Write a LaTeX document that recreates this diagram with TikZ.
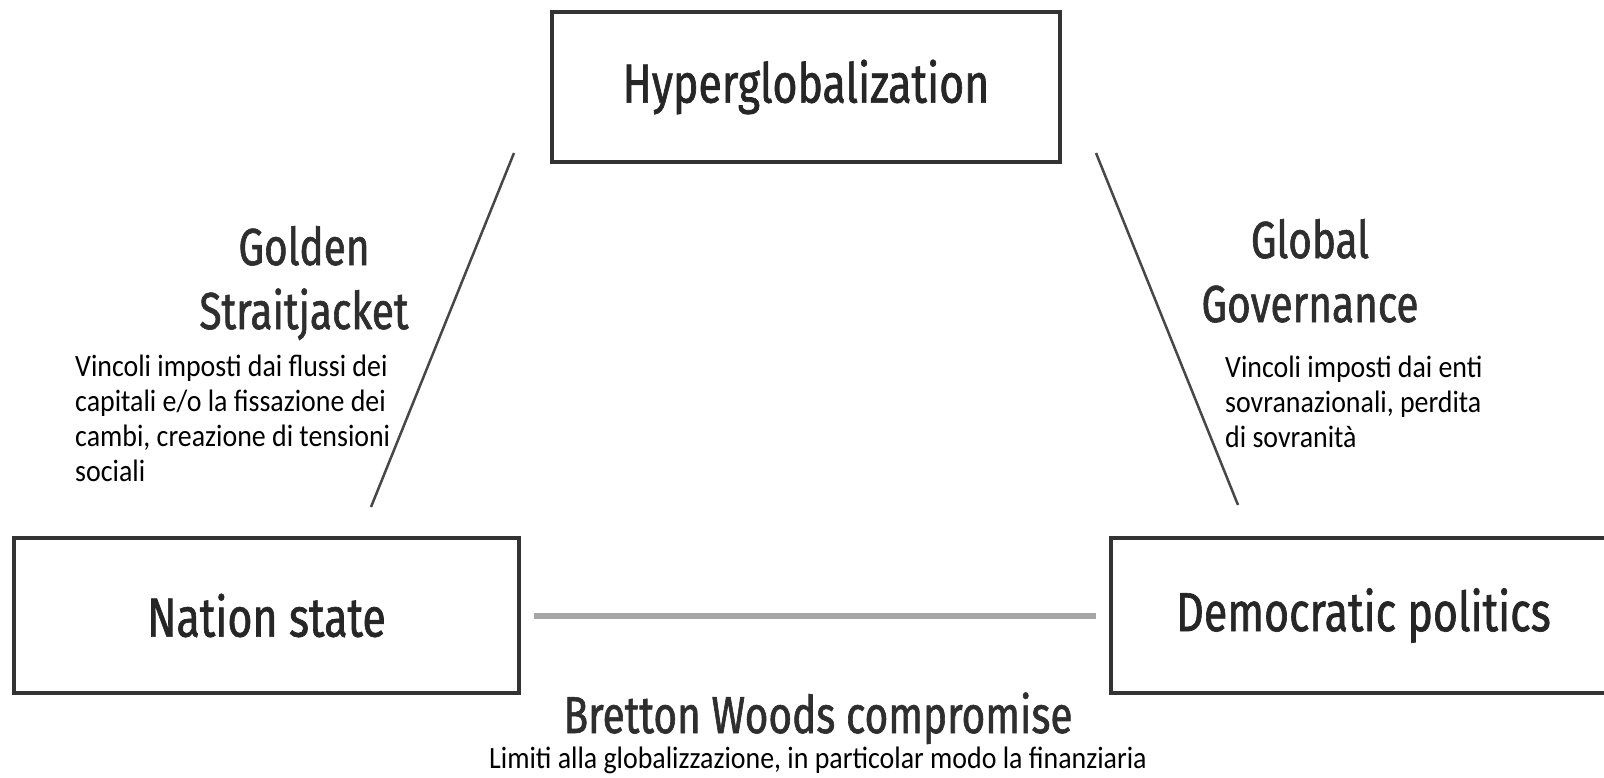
\documentclass[tikz,border=0pt]{standalone}
\usepackage{fontspec}
\setmainfont{Carlito}
\newfontfamily\headfont[FakeStretch=0.78, FakeBold=1.2]{Fira Sans}
\newfontfamily\notefont[FakeStretch=0.9]{Carlito}

\begin{document}
\begin{tikzpicture}[x=1pt, y=-1pt]
\newcommand{\boxwd}{505pt}
\newcommand{\boxht}{155pt}

\tikzset{ boxstyle/.style={draw=black!80, line width=4pt, minimum width=\boxwd,
    minimum height=\boxht, inner sep=0pt, text=black!85,
    font=\headfont\fontsize{55}{64}\selectfont},
  headstyle/.style={align=center, inner sep=0pt, text=black!82,
    font=\headfont\fontsize{52}{64}\selectfont},
  notestyle/.style={inner sep=0pt, font=\notefont\fontsize{31}{35}\selectfont},
  sidelink/.style={line width=2.5pt, draw=black!72},
  baselink/.style={line width=6pt, draw=black!35, shorten <=13pt, shorten >=13pt}
}

\useasboundingbox (0,0) rectangle (1604,778);
\clip (0,0) rectangle (1604,778);

\node[boxstyle, minimum width=508pt, minimum height=150pt] (hg) at (806,87) {Hyperglobalization};
\node[boxstyle] (ns) at (266.5,615.5) {Nation state};
\node[boxstyle] (dp) at (1363.5,615.5) {Democratic politics};

\coordinate (gsA) at (514,153);
\coordinate (gsB) at (371,507);
\coordinate (ggA) at (1096,153);
\coordinate (ggB) at (1238,505);

\draw[sidelink] (gsA) -- (gsB);
\draw[sidelink] (ggA) -- (ggB);
\draw[baselink] (ns.east) -- (dp.west);

% base anchor of a multi-line node is the last line
\node[headstyle, anchor=base] (gs) at (304,329) {Golden\\Straitjacket};
\node[headstyle, anchor=base] (gg) at (1310,322) {Global\\Governance};
\node[headstyle, anchor=base] (bw) at (818,733) {Bretton Woods compromise};

\node[notestyle, align=left, anchor=base west] (gsnote) at (75,481) {Vincoli imposti dai flussi dei\\capitali e/o la fissazione dei\\cambi, creazione di tensioni\\sociali};
\node[notestyle, align=left, anchor=base west] (ggnote) at (1225,447) {Vincoli imposti dai enti\\sovranazionali, perdita\\di sovranità};
\node[notestyle, anchor=base] (bwnote) at (818,768) {Limiti alla globalizzazione, in particolar modo la finanziaria};

\end{tikzpicture}
\end{document}
